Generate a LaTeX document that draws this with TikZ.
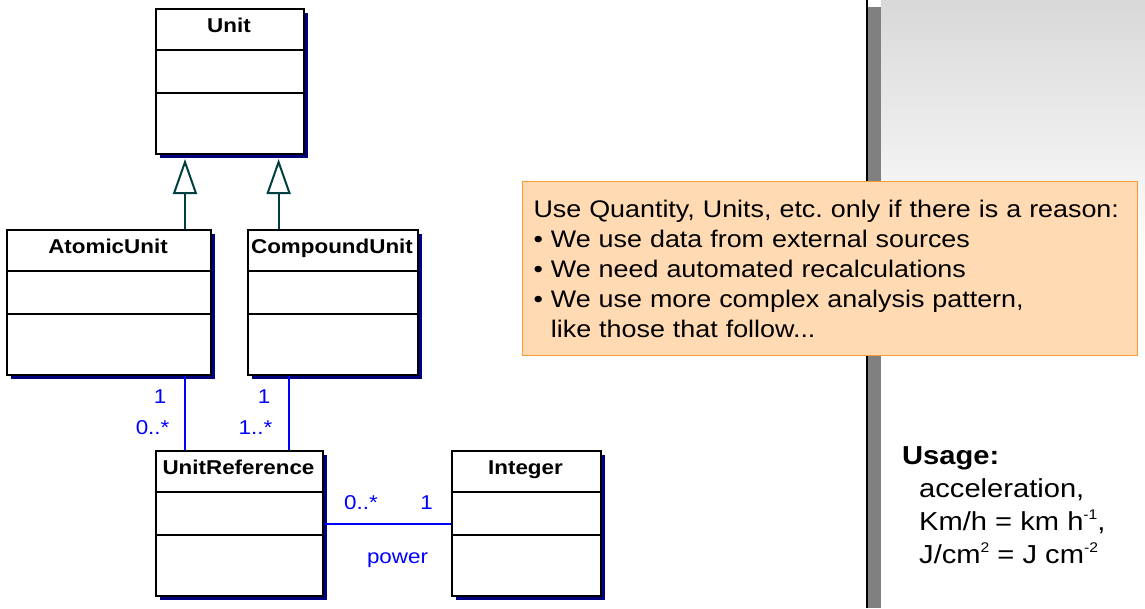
\documentclass[tikz,border=0pt]{standalone}
\usepackage{fontspec}
\setmainfont{Liberation Sans}[FakeStretch=1.12]
\usetikzlibrary{arrows.meta,calc}
\definecolor{shadowblue}{HTML}{000080}
\definecolor{assocblue}{HTML}{0000FF}
\definecolor{gencol}{HTML}{004040}
\definecolor{notefill}{HTML}{FFDAB3}
\definecolor{noteline}{HTML}{FF9933}
\definecolor{barcol}{HTML}{808080}
\newcommand{\sups}[1]{\raisebox{0.75ex}{\fontsize{14}{14}\selectfont #1}}
\begin{document}
\begin{tikzpicture}[x=1pt, y=-1pt,
  cls/.style={draw, line width=2pt, fill=white, minimum height=145pt, inner sep=0pt},
  clsname/.style={font=\fontsize{20}{22}\selectfont\bfseries, anchor=base},
  gen/.style={draw=gencol, line width=2pt, -{Triangle[open, width=24pt, length=35pt]}},
  assoc/.style={draw=assocblue, line width=2pt},
  mult/.style={text=assocblue, font=\fontsize{20}{22}\selectfont, inner sep=0pt}]
\useasboundingbox (0,0) rectangle (1145,608);
\fill[white] (0,0) rectangle (1145,608);
\shade[top color=black!15, bottom color=white] (881,0) rectangle (1145,260);
\fill[barcol] (868,7) rectangle (881,608);
\draw[line width=1.5pt] (867,0) -- (867,608);
\foreach \n/\x/\y/\w/\t in {unit/155/8/148/Unit, au/6/229/204/AtomicUnit, cu/247/229/170/CompoundUnit, uref/155/450/167/UnitReference, int/451/450/149/Integer}{
  \fill[shadowblue] (\x+5,\y+5) rectangle (\x+\w+5,\y+150);
  \node[cls, minimum width=\w pt, anchor=north west] (\n) at (\x,\y) {};
  \draw[line width=1.5pt] (\x,\y+42) -- (\x+\w,\y+42) (\x,\y+85) -- (\x+\w,\y+85);
  \node[clsname] at (\x+\w/2,\y+24) {\t};
}
\coordinate (g1) at ($(unit.south west)!0.2!(unit.south east)+(0,4)$);
\coordinate (g2) at ($(unit.south west)!0.824!(unit.south east)+(0,4)$);
\draw[gen] (au.north -| g1) -- (g1);
\draw[gen] (cu.north -| g2) -- (g2);
\coordinate (a1) at ($(uref.north west)!0.175!(uref.north east)$);
\coordinate (a2) at ($(uref.north west)!0.79!(uref.north east)$);
\coordinate (p1) at ($(uref.north east)+(0,74)$);
\draw[assoc] (a1 |- au.south) -- (a1);
\draw[assoc] (a2 |- cu.south) -- (a2);
\draw[assoc] (p1) -- (p1 -| int.west);
\node[mult, anchor=east] at ($(a1 |- au.south)+(-18,21)$) {1};
\node[mult, anchor=east] at ($(a1)+(-15,-22)$) {0..*};
\node[mult, anchor=east] at ($(a2 |- cu.south)+(-18,21)$) {1};
\node[mult, anchor=east] at ($(a2)+(-16,-22)$) {1..*};
\node[mult, anchor=west] at ($(p1)+(20,-21)$) {0..*};
\node[mult, anchor=east] at ($(p1 -| int.west)+(-18,-21)$) {1};
\node[mult] at ($(p1)!0.5!(p1 -| int.west)+(10,36)$) {power};
\node[draw=noteline, line width=1pt, fill=notefill, anchor=north west, minimum width=615pt, minimum height=174pt,
  text width=593pt, inner xsep=11pt, align=left, font=\fontsize{24}{30}\selectfont] (note) at (522,181)
  {Use Quantity, Units, etc.\ only if there is a reason:\\
   • We use data from external sources\\
   • We need automated recalculations\\
   • We use more complex analysis pattern,\\
   \phantom{• }like those that follow...};
\node[anchor=north west, inner sep=0pt, align=left, font=\fontsize{26}{33}\selectfont] (usage) at (902,446)
  {\textbf{Usage:}\\
   \hspace*{17pt}acceleration,\\
   \hspace*{17pt}Km/h = km h\sups{-1},\\
   \hspace*{17pt}J/cm\sups{2} = J cm\sups{-2}};
\end{tikzpicture}
\end{document}
